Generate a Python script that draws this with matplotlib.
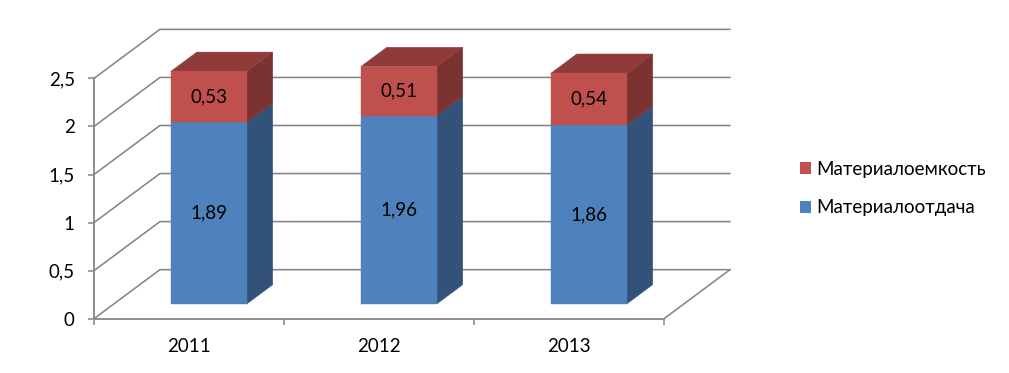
import matplotlib
matplotlib.use("Agg")
import matplotlib.pyplot as plt
from matplotlib.patches import Polygon, Rectangle

plt.rcParams['font.family'] = ['Lato', 'Open Sans', 'DejaVu Sans']

categories = ['2011', '2012', '2013']
materialootdacha = [1.89, 1.96, 1.86]
materialoemkost = [0.53, 0.51, 0.54]
y_ticks = [0, 0.5, 1, 1.5, 2, 2.5]
y_tick_labels = ['0', '0,5', '1', '1,5', '2', '2,5']
label_blue = 'Материалоотдача'
label_red = 'Материалоемкость'

W, H = 1009, 373
fig = plt.figure(figsize=(W / 100, H / 100), dpi=100, facecolor='white')
ax = fig.add_axes([94 / W, 1 - 318.7 / H, 570 / W, 240.3 / H])
ax.set_xlim(0, 3)
ax.set_ylim(0, 2.5)
GRID = '#868686'

DX, DY = 0.347, 0.51
BAR_W = 0.4
Z0, Z1 = 0.30, 0.694


def proj(x, v, z):
    return (x + z * DX, v + z * DY)


for t in y_ticks:
    ax.plot(*zip(proj(0, t, 0), proj(0, t, 1), proj(3, t, 1)), color=GRID, lw=1.15,
            clip_on=False, zorder=1, solid_joinstyle='miter')
ax.plot(*zip(proj(3, 0, 0), proj(3, 0, 1)), color=GRID, lw=1.15, clip_on=False, zorder=1)


def box(x0, x1, v0, v1, front, side, top=None):
    ax.add_patch(Polygon([proj(x1, v0, Z0), proj(x1, v0, Z1), proj(x1, v1, Z1), proj(x1, v1, Z0)],
                         closed=True, fc=side, ec=side, lw=0.3, clip_on=False, zorder=3))
    if top is not None:
        ax.add_patch(Polygon([proj(x0, v1, Z0), proj(x1, v1, Z0), proj(x1, v1, Z1), proj(x0, v1, Z1)],
                             closed=True, fc=top, ec=top, lw=0.3, clip_on=False, zorder=3))
    ax.add_patch(Polygon([proj(x0, v0, Z0), proj(x1, v0, Z0), proj(x1, v1, Z0), proj(x0, v1, Z0)],
                         closed=True, fc=front, ec=front, lw=0.3, clip_on=False, zorder=4))


C_BLUE, C_BLUE_S = '#4F81BD', '#32527A'
C_RED, C_RED_S, C_RED_T = '#C0504D', '#7A3331', '#8F3B39'
FS = 13.5

for i, (b, r) in enumerate(zip(materialootdacha, materialoemkost)):
    x0 = i + 0.5 - BAR_W / 2
    x1 = i + 0.5 + BAR_W / 2
    box(x0, x1, 0, b, C_BLUE, C_BLUE_S)
    box(x0, x1, b, b + r, C_RED, C_RED_S, C_RED_T)
    cx, cy = proj(i + 0.5, b / 2, Z0)
    ax.text(cx, cy, f'{b:.2f}'.replace('.', ','), ha='center', va='center', fontsize=FS, color='black', zorder=6)
    cx, cy = proj(i + 0.5, b + r / 2, Z0)
    ax.text(cx, cy, f'{r:.2f}'.replace('.', ','), ha='center', va='center', fontsize=FS, color='black', zorder=6)

for s in ('top', 'right'):
    ax.spines[s].set_visible(False)
for s in ('left', 'bottom'):
    ax.spines[s].set_color(GRID)
    ax.spines[s].set_linewidth(1.3)
ax.patch.set_alpha(0)

ax.set_yticks(y_ticks, y_tick_labels)
ax.set_xticks([0, 1, 2, 3], [''] * 4)
ax.set_xticks([0.5, 1.5, 2.5], categories, minor=True)
ax.tick_params(axis='y', length=4.3, width=1.1, color=GRID, labelsize=FS, pad=9.5)
ax.tick_params(axis='x', which='major', length=4.3, width=1.1, color=GRID)
ax.tick_params(axis='x', which='minor', length=0, labelsize=FS, pad=14)

handles = [Rectangle((0, 0), 1, 1, fc=C_RED), Rectangle((0, 0), 1, 1, fc=C_BLUE)]
fig.legend(handles, [label_red, label_blue], loc='center left',
           bbox_to_anchor=(796 / W, 1 - 188.5 / H), frameon=False, fontsize=FS,
           handlelength=0.59, handleheight=0.59, handletextpad=0.3, labelspacing=1.16,
           borderpad=0.2, borderaxespad=0)

fig.savefig('out.png', dpi=100, facecolor='white')
